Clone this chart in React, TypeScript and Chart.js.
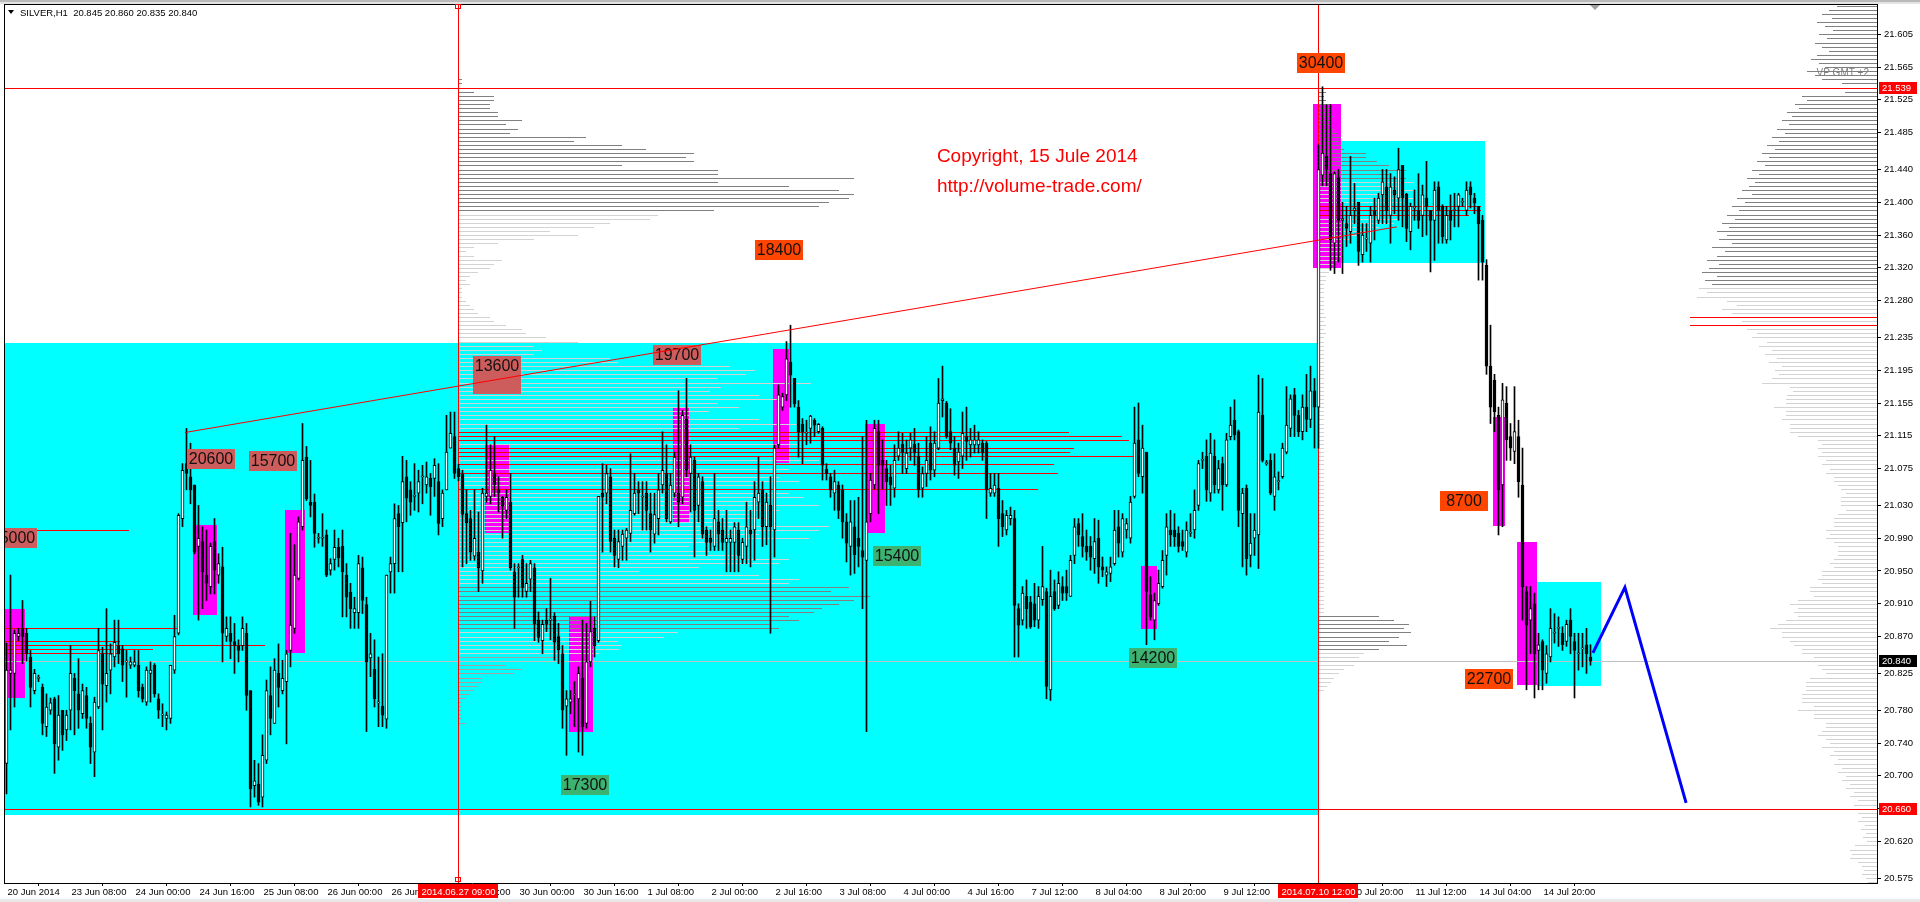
import React, { useEffect, useRef } from 'react';
import { Chart, registerables } from 'chart.js';
Chart.register(...registerables);

// ---- SILVER H1 candles, prices in thousandths of a dollar ----
const OPEN_K = [
20715,20825,20825,20870,20880,20874,20845,20804,20819,20808,
20760,20780,20794,20735,20780,20756,20780,20819,20800,20776,
20798,20764,20729,20784,20849,20810,20829,20845,20859,20855,
20839,20835,20835,20835,20808,20790,20825,20835,20794,20774,
20770,20770,20829,20874,21014,21081,21065,21055,20980,20986,
20945,20931,20986,20945,20955,20870,20874,20864,20859,20859,
20874,20804,20688,20690,20674,20719,20798,20764,20825,20804,
20815,20853,20880,20941,21004,21089,21034,21034,20990,20990,
20994,20951,20964,20979,20980,20945,20924,20899,20899,20954,
20909,20844,20830,20789,20785,20769,20949,20959,21020,21009,
21065,21049,21041,21045,21065,21055,21063,21063,21059,21014,
21049,21100,21114,21075,21068,21020,21014,20968,20973,20950,
21041,21041,21069,21049,21040,21024,21034,20949,20954,20964,
20925,20940,20954,20890,20865,20890,20890,20895,20870,20849,
20785,20790,20799,20794,20819,20764,20839,20880,20865,21045,
21045,21065,20990,20964,20980,20990,20996,21020,21049,21040,
21045,21020,20995,21014,21055,21069,21010,21045,21045,21040,
21135,21069,21085,21030,21059,21000,20990,20980,21010,21000,
20985,20985,20985,21000,20964,20980,21000,21000,21034,21049,
21004,21030,21000,21104,21150,21165,21205,21185,21150,21129,
21118,21124,21134,21120,21124,21074,21065,21045,21055,21049,
21010,20980,21004,20990,20975,20963,21020,21055,21120,21085,
21075,21065,21051,21090,21105,21075,21100,21105,21090,21051,
21069,21106,21073,21100,21158,21155,21120,21100,21083,21090,
21114,21104,21104,21104,21106,21106,21045,21045,21051,21020,
21000,21014,21014,20904,20890,20919,20912,20910,20890,20915,
20925,20805,20925,20908,20931,20931,20919,20969,21008,20992,
20980,20980,20965,20990,20955,20945,20947,20959,21004,20973,
21000,20990,21041,21110,21065,21095,20921,20890,20910,20931,
20969,21000,21000,20996,20986,20973,20996,21000,21030,21085,
21090,21045,21090,21049,21081,21055,21114,21134,21120,21020,
21051,20969,20990,20994,21140,21081,21085,21041,21059,21065,
21095,21124,21165,21140,21120,21150,21135,21170,21150,21433,
21456,21435,21350,21430,21378,21374,21364,21390,21400,21336,
21355,21350,21390,21378,21409,21419,21384,21415,21405,21445,
21410,21364,21393,21390,21384,21405,21390,21378,21419,21395,
21354,21390,21390,21395,21400,21390,21419,21405,21395,21378,
21323,21200,21183,21140,21055,21155,21114,21096,21114,21055,
20925,20890,20910,20853,20864,20825,20845,20874,20880,20874,
20864,20890,20864,20849,20855,20860,20845];
const HIGH_K = [
20862,20945,20878,20880,20914,20880,20853,20830,20823,20812,
20800,20795,20796,20798,20780,20780,20859,20825,20843,20812,
20808,20772,20796,20880,20857,20904,20861,20890,20890,20859,
20853,20845,20853,20853,20812,20833,20839,20837,20800,20788,
20778,20835,20896,21020,21081,21124,21106,21055,21030,21004,
21000,20984,21014,20971,20979,20894,20894,20886,20866,20894,
20886,20804,20719,20715,20750,20817,20833,20843,20861,20841,
20853,20996,20982,21016,21130,21102,21085,21044,20996,21020,
21000,20965,21000,20990,21000,20959,20935,20918,20969,20967,
20918,20874,20866,20845,20849,20945,20967,21032,21030,21090,
21085,21059,21081,21073,21079,21083,21069,21087,21081,21049,
21140,21144,21144,21080,21073,21049,21024,21049,21022,21051,
21128,21104,21114,21065,21041,21049,21069,20959,20959,20969,
20959,20963,20959,20900,20890,20904,20941,20899,20886,20859,
20804,20804,20815,20833,20890,20886,20913,20894,21041,21081,
21079,21075,21000,21000,21000,21002,21093,21069,21059,21059,
21059,21045,21045,21069,21120,21104,21069,21095,21170,21146,
21185,21104,21089,21069,21065,21004,21000,21069,21024,21014,
21024,21000,21009,21009,20990,21034,21024,21059,21089,21059,
21045,21065,21104,21177,21167,21230,21250,21185,21158,21136,
21134,21140,21136,21130,21126,21081,21069,21073,21059,21055,
21020,21036,21036,21040,21114,21134,21069,21134,21134,21110,
21085,21079,21104,21120,21118,21110,21118,21124,21106,21077,
21114,21126,21120,21185,21200,21157,21148,21114,21106,21144,
21150,21124,21128,21120,21110,21108,21069,21069,21069,21036,
21024,21028,21024,20910,20931,20939,20919,20935,20931,20980,
20929,20951,20939,20949,20943,20951,20969,21014,21014,21020,
21000,20992,21014,21012,20967,20955,20967,21024,21024,21020,
21014,21041,21150,21155,21128,21095,20943,20923,20951,20975,
21020,21024,21020,21004,21000,21010,21020,21049,21085,21095,
21110,21118,21110,21085,21089,21118,21150,21159,21122,21051,
21055,21020,21020,21189,21185,21085,21093,21093,21071,21106,
21175,21165,21173,21146,21165,21190,21200,21185,21470,21541,
21519,21519,21437,21440,21400,21395,21456,21423,21400,21374,
21374,21395,21405,21411,21440,21440,21435,21431,21466,21445,
21411,21399,21415,21435,21421,21450,21390,21425,21425,21397,
21395,21409,21411,21411,21405,21425,21425,21411,21395,21384,
21330,21250,21190,21150,21179,21175,21130,21175,21134,21100,
20931,20931,20923,20874,20866,20859,20904,20898,20894,20882,
20890,20904,20874,20874,20874,20880,20860];
const LOW_K = [
20678,20756,20784,20865,20837,20840,20784,20800,20815,20750,
20748,20775,20703,20719,20731,20743,20756,20750,20758,20770,
20758,20715,20699,20782,20756,20790,20800,20833,20837,20815,
20796,20831,20833,20796,20790,20786,20790,20796,20770,20760,
20756,20764,20825,20872,21004,21049,21032,20971,20890,20904,
20914,20922,20922,20935,20839,20864,20843,20825,20839,20853,
20780,20662,20674,20664,20662,20715,20750,20764,20784,20800,
20739,20833,20874,20939,21000,21036,21016,20979,20984,20980,
20943,20945,20951,20955,20894,20894,20880,20880,20880,20898,
20754,20821,20784,20760,20760,20758,20923,20923,20949,20949,
21010,21018,21024,21022,21032,21045,21018,21041,20994,21004,
21049,21100,21063,21060,20955,20959,20963,20963,20925,20935,
21034,21032,21041,21022,20990,21014,20951,20880,20918,20918,
20918,20925,20865,20863,20849,20876,20866,20841,20837,20758,
20725,20776,20760,20729,20725,20758,20833,20845,20863,20973,
21032,20973,20955,20954,20963,20963,20986,21018,21020,21000,
21000,20973,20984,20994,21045,21010,21008,21040,21004,21032,
21065,21022,20967,21010,20990,20969,20975,20975,20975,20975,
20949,20949,20949,20949,20959,20959,20955,20963,21014,20980,
20982,20874,20967,21100,21146,21158,21150,21150,21089,21081,
21104,21106,21114,21118,21061,21061,21040,21024,21014,20990,
20961,20945,20947,20955,20904,20754,21010,21050,21020,21050,
21030,21030,21040,21085,21069,21069,21085,21079,21040,21040,
21053,21061,21065,21098,21138,21112,21098,21067,21063,21075,
21085,21089,21094,21094,21085,21014,21041,21041,20980,20992,
20994,21006,20845,20845,20884,20880,20880,20882,20880,20908,
20794,20792,20902,20904,20914,20914,20919,20959,20980,20967,
20963,20951,20947,20935,20943,20931,20937,20957,20967,20967,
20990,20984,21039,21065,21045,20860,20890,20866,20908,20929,
20945,20980,20980,20973,20975,20967,20992,20990,21024,21075,
21035,21035,21045,21045,21024,21053,21110,21110,21004,20955,
20945,20955,20969,20953,21083,21079,21043,21024,21049,21063,
21093,21114,21114,21114,21110,21120,21125,21100,21100,21420,
21420,21317,21313,21327,21313,21346,21350,21374,21323,21327,
21340,21327,21354,21374,21374,21374,21350,21386,21378,21370,
21352,21342,21378,21368,21358,21360,21315,21329,21350,21350,
21350,21354,21370,21370,21395,21384,21393,21386,21305,21305,
21190,21130,21120,20994,21004,21085,21085,21081,21040,20890,
20805,20849,20795,20805,20805,20813,20839,20862,20858,20853,
20858,20849,20795,20829,20833,20825,20835];
const CLOSE_K = [
20829,20829,20874,20874,20870,20849,20808,20825,20819,20764,
20784,20789,20739,20774,20750,20774,20825,20804,20780,20804,
20770,20735,20790,20853,20812,20825,20849,20863,20849,20835,
20839,20839,20839,20804,20794,20829,20829,20800,20780,20774,
20774,20835,20870,21018,21073,21069,21049,20973,20990,20949,
20935,20980,20951,20959,20874,20880,20864,20859,20853,20880,
20798,20684,20694,20668,20725,20804,20770,20829,20808,20819,
20849,20884,20945,21010,21085,21038,21030,20996,20990,20990,
20945,20959,20979,20966,20949,20918,20904,20904,20959,20914,
20839,20849,20794,20789,20774,20945,20959,21014,21004,21059,
21039,21034,21041,21059,21065,21065,21053,21079,21008,21045,
21095,21118,21069,21065,21019,21009,20973,20990,20954,21045,
21045,21073,21055,21045,21029,21040,20954,20918,20954,20930,
20935,20959,20885,20869,20885,20885,20890,20863,20854,20780,
20794,20794,20799,20825,20760,20839,20876,20859,21041,21040,
21069,20986,20969,20986,20995,21000,21024,21045,21045,21040,
21024,21000,21019,21049,21073,21014,21055,21089,21034,21140,
21073,21089,21024,21065,20995,20985,20985,21014,20995,20985,
20990,20990,21004,20969,20985,21004,20995,21040,21045,21004,
21034,21004,21100,21165,21163,21209,21189,21154,21120,21120,
21118,21139,21128,21129,21079,21069,21049,21059,21024,21010,
20984,21010,20970,20980,20967,21010,21061,21124,21079,21079,
21059,21055,21085,21100,21094,21094,21110,21094,21049,21069,
21085,21073,21106,21155,21160,21114,21106,21079,21095,21118,
21108,21110,21110,21110,21094,21049,21051,21055,21014,21004,
21018,21018,20908,20884,20923,20904,20882,20890,20919,20931,
20809,20919,20904,20935,20923,20923,20963,21004,20994,20980,
20973,20967,20986,20955,20951,20949,20955,21000,20984,21014,
21008,21034,21106,21069,21100,20925,20894,20914,20935,20963,
21004,20994,20992,20980,20980,21000,20996,21024,21081,21085,
21049,21094,21055,21075,21055,21110,21128,21116,21024,21045,
20965,20984,21000,21144,21085,21081,21045,21065,21059,21100,
21128,21160,21140,21120,21150,21135,21170,21150,21440,21460,
21440,21354,21435,21378,21380,21368,21384,21393,21340,21360,
21355,21384,21384,21405,21425,21390,21419,21409,21440,21405,
21368,21395,21395,21378,21409,21395,21378,21415,21390,21358,
21384,21378,21390,21409,21400,21415,21409,21399,21374,21327,
21200,21150,21144,21049,21159,21110,21100,21120,21059,20931,
20884,20904,20849,20860,20829,20849,20880,20874,20880,20860,
20885,20870,20853,20849,20855,20849,20840];

// time axis: one label every 16 bars
const TIME_LABELS = ['20 Jun 2014','23 Jun 08:00','24 Jun 00:00','24 Jun 16:00','25 Jun 08:00','26 Jun 00:00','26 Jun 16:00','27 Jun 08:00','30 Jun 00:00','30 Jun 16:00','1 Jul 08:00','2 Jul 00:00','2 Jul 16:00','3 Jul 08:00','4 Jul 00:00','4 Jul 16:00','7 Jul 12:00','8 Jul 04:00','8 Jul 20:00','9 Jul 12:00','10 Jul 04:00','10 Jul 20:00','11 Jul 12:00','14 Jul 04:00','14 Jul 20:00'];
const BARS_PER_LABEL = 16;
const PRICE_TICKS = [21605,21565,21525,21485,21440,21400,21360,21320,21280,21235,21195,21155,21115,21075,21030,20990,20950,20910,20870,20825,20780,20740,20700,20660,20620,20575];

// vertical lines (bar index) with their axis captions
const VLINE_BARS = [113, 328];
const VLINE_TEXT = ['2014.06.27 09:00', '2014.07.10 12:00'];
// horizontal lines
const HLINE_PRICES = [21539, 20660];
const BID_PRICE = 20840;

// rectangles: from bar, to bar, top price, bottom price, kind
const RECT_FROM = [-2, 333.6, 382.6, -0.4, 46.6, 69.6, 119.6, 140.6, 166.6, 191.6, 214.6, 283.6, 326.6, 371.6, 377.6];
const RECT_TO = [327.9, 369.6, 398.6, 4.6, 52.6, 74.6, 125.6, 146.6, 170.6, 195.6, 219.6, 287.6, 333.6, 374.6, 382.6];
const RECT_TOP = [21228, 21475, 20937, 20904, 21006, 21024, 21104, 20894, 21149, 21221, 21130, 20956, 21520, 21138, 20985];
const RECT_BOTTOM = [20652, 21326, 20810, 20795, 20896, 20850, 20996, 20754, 21008, 21082, 20996, 20879, 21320, 21005, 20811];
const RECT_KIND = ['c','c','c','m','m','m','m','m','m','m','m','m','m','m','m'];

// volume labels: text, left bar, top price, kind
const MARK_TEXT = ['15000','20600','15700','13600','','19700','18400','30400','8700','22700','15400','17300','14200'];
const MARK_BAR = [-4.4, 45.1, 60.6, 116.6, 116.6, 161.6, 187.1, 322.6, 358.4, 364.6, 216.6, 138.6, 280.6];
const MARK_PRICE = [21002, 21099, 21096, 21212, 21191, 21226, 21354, 21582, 21048, 20830, 20981, 20701, 20856];
const MARK_KIND = ['r','r','r','r','r','r','o','o','o','o','g','g','g'];

// trend line (bar, price) pairs and forecast path
const TREND_BARS = [44.6, 347.6];
const TREND_PRICES = [21119, 21370];
const FORECAST_BARS = [396.6, 404.6, 419.9];
const FORECAST_PRICES = [20850, 20930, 20667];

// volume profiles: volume per 0.005 level, starting at the top price
const PROF_STEP = 5;
const PROF_A_BAR = 113;
const PROF_A_TOP = 21550;
const PROF_A_VOL = [
3,3,11,15,35,35,31,31,39,39, 63,47,59,51,127,115,163,187,235,227,
235,163,259,259,395,259,330,380,395,390, 370,360,255,199,191,151,135,91,119,75,
39,15,7,15,43,35,31,19,11,7, 11,3,3,3,7,11,15,19,31,35,
47,63,67,87,119,75,83,75,151,159, 271,296,287,259,352,262,251,300,320,259,
280,250,230,300,340,280,610,663,670,340, 615,611,675,360,595,330,599,320,340,300,
579,330,345,300,360,320,290,310,280,370, 360,300,350,260,230,250,280,330,320,240,
180,300,340,330,390,372,411,395,380,363, 355,330,340,310,320,219,205,159,163,160,
140,100,47,47,63,55,23,23,19,15, 11,7,3,3,3,3,3,7];
const PROF_A_RED = [21120,21115,21110,21100,21095,21090,21080,21070,21050];
const PROF_B_BAR = 328;
const PROF_B_TOP = 21540;
const PROF_B_VOL = [
5,7,5,7,10,12,10,15,10,12, 15,18,22,20,22,25,47,47,58,70,
87,70,87,95,78,95,88,95,85,162, 162,150,80,75,60,55,40,30,25,22,
22,22,18,15,12,10,7,7,5,5, 5,5,5,5,5,5,7,5,7,5,
7,5,5,5,5,5,5,5,5,5, 5,5,5,5,5,5,5,5,5,5,
5,5,5,5,5,5,5,5,5,5, 5,5,5,5,5,5,5,5,5,5,
5,5,5,5,5,5,5,5,5,5, 5,5,5,5,5,5,5,5,5,5,
5,5,5,5,5,5,5,5,5,60, 75,90,85,92,80,70,88,60,45,40,
30,35,25,20,15,12,8,5];
const PROF_B_RED = [21395,21390,21385];
const PROF_C_TOP = 21640;
const PROF_C_VOL = [
40,48,55,45,60,52,44,58,50,62, 55,48,60,66,58,52,70,62,55,35,
68,32,75,70,82,78,90,85,95,88, 100,92,105,98,110,102,115,108,120,112,
125,118,130,122,128,135,125,140,132,145, 138,150,142,155,148,160,150,158,145,165,
152,160,170,158,168,175,160,172,165,178, 170,180,150,140,155,145,187,135,187,130,
120,125,110,118,105,112,100,108,95,102, 98,105,
115,87,84,90,91,91,103,91,91,95, 87,87,87,79,59,55,59,55,59,51,
55,47,51,43,43,39,36,31,36,36, 36,31,39,43,43,43,51,47,51,43,
39,39,39,43,47,43,55,55,59,55, 67,67,63,79,87,79,83,79,91,99,
107,95,95,87,83,75,75,63,60,59, 55,51,67,71,71,71,75,75,75,63,
79,63,63,51,51,
55,59,51,47,55,43,47,39,43,35, 39,31,35,27,31,23,27,19,23,22,
19,15,19,12,16,11,14,10,22,27, 25,27,19,15,13,15,11,9];
const PROF_C_RED = [21260, 21250];
const LEFT_LEVELS = [21000, 20880, 20865, 20860, 20855, 20850];
const LEFT_VOL = [125, 176, 116, 261, 149, 116];

// ---- styling ----
const PX_PER_BAR = 4;
const FONT = 'Liberation Sans';
const COLORS: any = { c: '#00FFFF', m: '#FF00FF', r: '#CD5C5C', o: '#FF4500', g: '#3CB371' };
const DARK = '#808080', LIGHT = '#D3D3D3', RED = '#FF0000';
const fmt = (v: number) => (v / 1000).toFixed(3);

const BARS = OPEN_K.map((_, i) => i);

const overlay = {
  id: 'mt4overlay',
  beforeDatasetsDraw(chart: any) {
    const { ctx, chartArea: a, scales } = chart;
    const xs = scales.x, ys = scales.y;
    const X = (b: number) => xs.getPixelForValue(b);
    const Y = (p: number) => ys.getPixelForValue(p);
    ctx.save();
    ctx.beginPath();
    ctx.rect(a.left, a.top, a.right - a.left, a.bottom - a.top);
    ctx.clip();
    RECT_FROM.forEach((f, i) => {
      const x0 = Math.round(X(f)), x1 = Math.round(X(RECT_TO[i]));
      const y0 = Math.round(Y(RECT_TOP[i])), y1 = Math.round(Y(RECT_BOTTOM[i]));
      ctx.fillStyle = COLORS[RECT_KIND[i]];
      ctx.fillRect(x0, y0, x1 - x0, y1 - y0);
    });
    const prof = (top: number, vols: number[], start: number, dir: number, color: (p: number) => string) => {
      vols.forEach((v, k) => {
        const p = top - PROF_STEP * k;
        const xa = X(start), xb = X(start + dir * v / PX_PER_BAR);
        ctx.fillStyle = color(p);
        ctx.fillRect(Math.round(Math.min(xa, xb)), Math.round(Y(p)), Math.round(Math.abs(xb - xa)), 1);
      });
    };
    prof(PROF_A_TOP, PROF_A_VOL, PROF_A_BAR, 1, (p) =>
      PROF_A_RED.includes(p) ? RED : (p >= 21390 || (p <= 20930 && p >= 20880)) ? DARK : p < 20850 ? '#A8A0A0' : LIGHT);
    prof(PROF_B_TOP, PROF_B_VOL, PROF_B_BAR, 1, (p) =>
      PROF_B_RED.includes(p) ? RED : (p >= 21430 || (p <= 20895 && p >= 20855)) ? DARK : LIGHT);
    prof(PROF_C_TOP, PROF_C_VOL, xs.max, -1, (p) => PROF_C_RED.includes(p) ? RED : p >= 21300 ? DARK : LIGHT);
    LEFT_LEVELS.forEach((p, i) => {
      const xa = X(xs.min), xb = X(xs.min + LEFT_VOL[i] / PX_PER_BAR);
      ctx.fillStyle = RED;
      ctx.fillRect(Math.round(xa), Math.round(Y(p)), Math.round(xb - xa), 1);
    });
    // bid line
    ctx.fillStyle = '#C0C0C0';
    ctx.fillRect(a.left, Math.round(Y(BID_PRICE)), a.right - a.left, 1);
    ctx.fillStyle = RED;
    HLINE_PRICES.forEach((p) => ctx.fillRect(a.left, Math.round(Y(p)), a.right - a.left, 1));
    VLINE_BARS.forEach((b) => ctx.fillRect(Math.floor(X(b)), a.top, 1, a.bottom - a.top));
    ctx.restore();
  },
  afterDatasetsDraw(chart: any) {
    const { ctx, chartArea: a, scales } = chart;
    const xs = scales.x, ys = scales.y;
    const X = (b: number) => xs.getPixelForValue(b);
    const Y = (p: number) => ys.getPixelForValue(p);
    ctx.save();
    ctx.beginPath();
    ctx.rect(a.left, a.top, a.right - a.left, a.bottom - a.top);
    ctx.clip();
    // volume labels
    ctx.font = `16px "${FONT}"`;
    ctx.textAlign = 'center';
    ctx.textBaseline = 'middle';
    MARK_TEXT.forEach((t, i) => {
      const x0 = Math.round(X(MARK_BAR[i])), y0 = Math.round(Y(MARK_PRICE[i]));
      ctx.fillStyle = COLORS[MARK_KIND[i]];
      ctx.fillRect(x0, y0, 48, 20);
      ctx.fillStyle = '#111';
      ctx.fillText(t, x0 + 24, y0 + 11);
    });
    // trend line
    ctx.strokeStyle = RED;
    ctx.lineWidth = 1;
    ctx.beginPath();
    ctx.moveTo(X(TREND_BARS[0]), Y(TREND_PRICES[0]));
    ctx.lineTo(X(TREND_BARS[1]), Y(TREND_PRICES[1]));
    ctx.stroke();
    // copyright text
    ctx.fillStyle = RED;
    ctx.font = `19px "${FONT}"`;
    ctx.textAlign = 'left';
    ctx.textBaseline = 'alphabetic';
    ctx.fillText('Copyright, 15 Jule 2014', X(232.6), Y(21449));
    ctx.fillText('http://volume-trade.com/', X(232.6), Y(21413));
    // VP label
    ctx.fillStyle = '#808080';
    ctx.font = `10px "${FONT}"`;
    ctx.textAlign = 'right';
    ctx.fillText('VP GMT +2', a.right - 8, 76);
    ctx.restore();
  },
  afterDraw(chart: any) {
    const { ctx, chartArea: a, scales } = chart;
    const xs = scales.x, ys = scales.y;
    const X = (b: number) => xs.getPixelForValue(b);
    const Y = (p: number) => ys.getPixelForValue(p);
    ctx.save();
    // window strip at top
    ctx.fillStyle = '#B9B9B9';
    ctx.fillRect(0, 0, chart.width, 2);
    ctx.fillStyle = '#E3E3E3';
    ctx.fillRect(0, 2, chart.width, 2);
    ctx.fillStyle = '#E8E8E8';
    ctx.fillRect(0, chart.height - 3, chart.width, 3);
    // frame
    ctx.fillStyle = '#000';
    ctx.fillRect(a.left, a.top, a.right - a.left, 1);
    ctx.fillRect(a.left, a.top, 1, a.bottom - a.top);
    // vertical line markers and captions
    ctx.strokeStyle = RED;
    ctx.lineWidth = 1;
    ctx.strokeRect(Math.floor(X(VLINE_BARS[0])) - 2.5, a.top + 0.5, 5, 4);
    ctx.strokeRect(Math.floor(X(VLINE_BARS[0])) - 2.5, a.bottom - 5.5, 5, 4);
    ctx.font = `9.5px "${FONT}"`;
    ctx.textBaseline = 'middle';
    ctx.textAlign = 'center';
    VLINE_BARS.forEach((b, i) => {
      const cx = Math.floor(X(b));
      ctx.fillStyle = RED;
      ctx.fillRect(cx - 40, a.bottom + 1, 80, 14);
      ctx.fillStyle = '#fff';
      ctx.fillText(VLINE_TEXT[i], cx + 0.5, a.bottom + 9);
    });
    // price axis markers
    ctx.textAlign = 'left';
    const tag = (p: number, bg: string) => {
      const y = Math.round(Y(p));
      ctx.fillStyle = bg;
      ctx.fillRect(a.right + 2, y - 6, 38, 12);
      ctx.fillStyle = '#fff';
      ctx.fillText(fmt(p), a.right + 5, y + 0.5);
    };
    tag(HLINE_PRICES[0], RED);
    tag(BID_PRICE, '#000');
    tag(HLINE_PRICES[1], RED);
    // shift marker
    const sx = Math.round(X(BARS.length));
    ctx.fillStyle = '#A0A0A0';
    ctx.beginPath();
    ctx.moveTo(sx - 5, a.top + 1);
    ctx.lineTo(sx + 5, a.top + 1);
    ctx.lineTo(sx, a.top + 6);
    ctx.closePath();
    ctx.fill();
    // title
    const last = BARS.length - 1;
    ctx.fillStyle = '#000';
    ctx.beginPath();
    ctx.moveTo(8, 10);
    ctx.lineTo(14, 10);
    ctx.lineTo(11, 14);
    ctx.closePath();
    ctx.fill();
    ctx.font = `9.5px "${FONT}"`;
    ctx.textBaseline = 'alphabetic';
    ctx.fillText(`SILVER,H1  ${fmt(OPEN_K[last])} ${fmt(HIGH_K[last])} ${fmt(LOW_K[last])} ${fmt(CLOSE_K[last])}`, 20, 16);
    ctx.restore();
  },
};

export default function App() {
  const ref = useRef<HTMLCanvasElement | null>(null);
  useEffect(() => {
    document.body.style.margin = '0';
    document.body.style.background = '#fff';
    const canvas = ref.current!;
    const chart = new Chart(canvas, {
      type: 'bar',
      data: {
        datasets: [
          {
            type: 'bar',
            data: BARS.map((i) => ({ x: i, y: [LOW_K[i], HIGH_K[i]] })),
            backgroundColor: '#000',
            borderWidth: 0,
            grouped: false,
            barPercentage: 1,
            categoryPercentage: 1,
            maxBarThickness: 1,
            order: 3,
          } as any,
          {
            type: 'bar',
            data: BARS.map((i) => ({ x: i, y: [Math.min(OPEN_K[i], CLOSE_K[i]), Math.max(OPEN_K[i], CLOSE_K[i])] })),
            backgroundColor: BARS.map((i) => (CLOSE_K[i] >= OPEN_K[i] ? '#FFFFFF' : '#000000')),
            borderColor: '#000',
            borderWidth: 1,
            borderSkipped: false,
            grouped: false,
            barPercentage: 1,
            categoryPercentage: 1,
            maxBarThickness: 3,
            minBarLength: 1,
            order: 2,
          } as any,
          {
            type: 'line',
            data: FORECAST_BARS.map((b, i) => ({ x: b, y: FORECAST_PRICES[i] })),
            borderColor: '#0000FF',
            borderWidth: 3,
            pointRadius: 0,
            fill: false,
            tension: 0,
            order: 1,
          } as any,
        ],
      },
      options: {
        responsive: false,
        devicePixelRatio: 1,
        animation: false,
        events: [],
        layout: { padding: { left: 4, top: 4, right: 0, bottom: 0 } },
        plugins: { legend: { display: false }, tooltip: { enabled: false } },
        scales: {
          x: {
            type: 'linear',
            min: -0.625,
            max: 467.625,
            offset: false,
            afterBuildTicks: (s: any) => {
              s.ticks = TIME_LABELS.map((_, k) => ({ value: k * BARS_PER_LABEL }));
            },
            afterFit: (s: any) => {
              s.height = 19;
              s.paddingLeft = 0; s.paddingRight = 0; s.paddingTop = 0; s.paddingBottom = 0;
            },
            ticks: {
              autoSkip: false,
              maxRotation: 0,
              minRotation: 0,
              align: 'start',
              padding: 1,
              labelOffset: 1,
              color: '#000',
              font: { family: FONT, size: 9.5 },
              callback: (v: any) => TIME_LABELS[Math.round(v / BARS_PER_LABEL)] ?? '',
            },
            grid: { drawOnChartArea: false, drawTicks: true, tickLength: 3, color: '#000' },
            border: { color: '#000' },
          } as any,
          y: {
            type: 'linear',
            position: 'right',
            min: 20569.2,
            max: 21642,
            afterBuildTicks: (s: any) => {
              s.ticks = PRICE_TICKS.map((v) => ({ value: v }));
            },
            afterFit: (s: any) => {
              s.width = 43;
              s.paddingLeft = 0; s.paddingRight = 0; s.paddingTop = 0; s.paddingBottom = 0;
            },
            ticks: {
              color: '#000',
              padding: 3,
              font: { family: FONT, size: 9.5 },
              callback: (v: any) => fmt(v),
            },
            grid: { drawOnChartArea: false, drawTicks: true, tickLength: 4, color: '#000' },
            border: { color: '#000' },
          } as any,
        },
      },
      plugins: [overlay],
    } as any);
    return () => chart.destroy();
  }, []);
  return <canvas ref={ref} width={1920} height={902} style={{ display: 'block', width: '1920px', height: '902px' }} />;
}
